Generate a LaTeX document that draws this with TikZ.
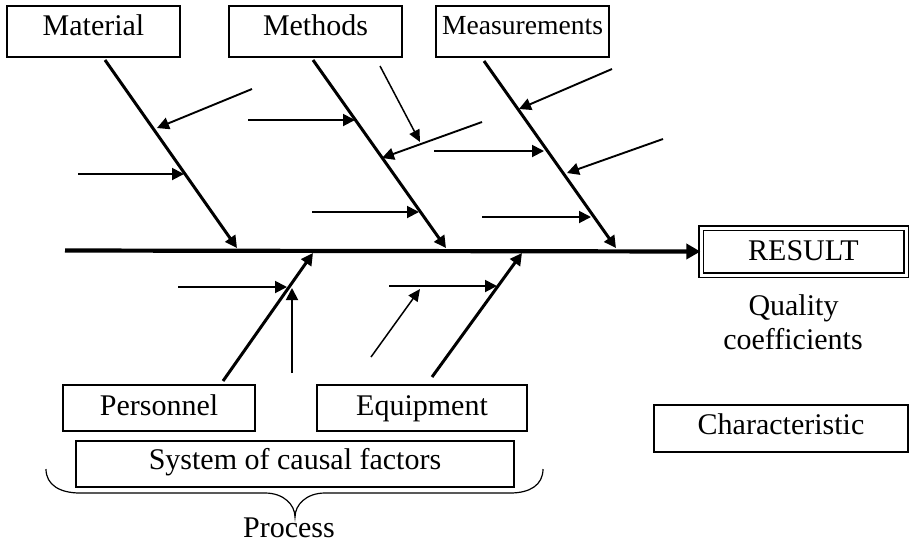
\documentclass[tikz,border=0pt]{standalone}
\usepackage{fontspec}
\setmainfont{Liberation Serif}
\usetikzlibrary{arrows.meta}
\newcommand\bodyfs{\fontsize{15}{17}\selectfont}
\newcommand\smallfs{\fontsize{13.8}{16}\selectfont}
\begin{document}
\begin{tikzpicture}[x=0.5pt,y=-0.5pt,
  box/.style={draw, line width=0.6pt, inner sep=0pt, text height=10pt, font=\bodyfs},
  plain/.style={inner sep=0pt, font=\bodyfs},
  spine/.style={line width=2.1pt, -{Triangle[length=7pt,width=7.5pt]}},
  bone/.style={line width=1.5pt, -{Triangle[length=6pt,width=6pt]}},
  cause/.style={line width=0.95pt, -{Triangle[length=6pt,width=6pt]}},
  thincause/.style={line width=0.75pt, -{Triangle[length=6pt,width=5.5pt]}}]
\useasboundingbox (0,0) rectangle (910,543);

% category boxes
\node[box, minimum width=86.5pt, minimum height=25.5pt, text depth=6.5pt] (material) at (93.5,31.5) {Material};
\node[box, minimum width=86.5pt, minimum height=25.5pt, text depth=6.5pt] (methods) at (315.5,31.5) {Methods};
\node[box, minimum width=86.5pt, minimum height=25.5pt, text height=9.4pt, text depth=6.9pt, font=\smallfs] (measure) at (522.5,31.5) {Measurements};
\node[box, minimum width=96pt, minimum height=23pt, text depth=3pt] (personnel) at (159,408) {Personnel};
\node[box, minimum width=105pt, minimum height=23pt, text depth=3pt] (equipment) at (422,408) {Equipment};
\node[box, minimum width=219pt, minimum height=23pt, text depth=5pt] (system) at (295,464) {System of causal factors};

% effect side
\node[box, double, double distance=1.5pt, line width=0.6pt, minimum width=102.5pt, minimum height=23.5pt, text depth=1.5pt] (result) at (803.5,251.5) {RESULT};
\node[plain, anchor=base] (quality) at (793.5,315) {Quality};
\node[plain, anchor=base] (coeff) at (793,349) {coefficients};
\node[box, minimum width=127pt, minimum height=23.5pt, text depth=4.5pt] (character) at (781,428.5) {Characteristic};
\node[plain, anchor=base] (process) at (289,537) {Process};

% spine
\coordinate (tail) at (65,250.5);
\draw[spine] (tail) -- (result.west);

% bone end points
\coordinate (matT) at (105,60);  \coordinate (matH) at (237,248);
\coordinate (metT) at (313,60);  \coordinate (metH) at (446,248);
\coordinate (meaT) at (484,61);  \coordinate (meaH) at (616,248);
\coordinate (perT) at (223,381); \coordinate (perH) at (313,253);
\coordinate (equT) at (432,377); \coordinate (equH) at (522,253);
\draw[bone] (matT) -- (matH);
\draw[bone] (metT) -- (metH);
\draw[bone] (meaT) -- (meaH);
\draw[bone] (perT) -- (perH);
\draw[bone] (equT) -- (equH);

% causes on the material bone
\coordinate (a1) at (252,89);  \coordinate (b1) at (157,128);
\coordinate (a2) at (78,174);  \coordinate (b2) at (184,174);
% causes on the methods bone
\coordinate (a3) at (248,120); \coordinate (b3) at (355,120);
\coordinate (a4) at (482,122); \coordinate (b4) at (382,158);
\coordinate (a5) at (380,66);  \coordinate (b5) at (420,142);
\coordinate (a6) at (312,212); \coordinate (b6) at (419,212);
% causes on the measurements bone
\coordinate (a7) at (612,69);  \coordinate (b7) at (519,109);
\coordinate (a8) at (434,151); \coordinate (b8) at (544,151);
\coordinate (a9) at (663,139); \coordinate (b9) at (567,173);
\coordinate (a10) at (482,217); \coordinate (b10) at (591,217);
% causes on the personnel bone
\coordinate (a11) at (178,287); \coordinate (b11) at (287,287);
\coordinate (a12) at (292,373); \coordinate (b12) at (292,288);
% causes on the equipment bone
\coordinate (a13) at (389,286); \coordinate (b13) at (497,286);
\coordinate (a14) at (371,357); \coordinate (b14) at (420,289);

\foreach \i in {1,2,3,4,6,7,8,9,10,11,12,13}
  \draw[cause] (a\i) -- (b\i);
\draw[thincause] (a5) -- (b5);
\draw[thincause] (a14) -- (b14);

% brace under the causal factors
\draw[line width=0.6pt] (46,469) .. controls (46,485) and (60,493) .. (80,493)
  -- (265,493) .. controls (284,493) and (295,505) .. (295,517)
  .. controls (295,505) and (306,493) .. (325,493)
  -- (510,493) .. controls (530,493) and (543,485) .. (543,469);
\end{tikzpicture}
\end{document}
